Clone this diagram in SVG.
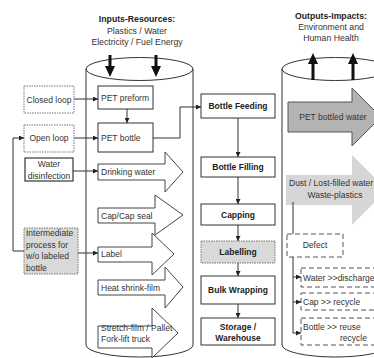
<svg xmlns="http://www.w3.org/2000/svg" width="374" height="358" viewBox="0 0 374 358">
  <defs>
    <marker id="arr" markerUnits="userSpaceOnUse" markerWidth="5" markerHeight="5" refX="5" refY="2.5" orient="auto">
      <path d="M0,0 L5,2.5 L0,5 z" fill="#222"/>
    </marker>
    <style>
      text { font-family: "Liberation Sans", Arial, sans-serif; font-size: 8.5px; fill: #333; }
      .b { font-weight: bold; fill: #222; }
      .h { font-size: 8.7px; }
      .m { text-anchor: middle; }
      .cyl { fill: none; stroke: #333; stroke-width: 1; }
      .box { fill: #fff; stroke: #333; stroke-width: 1; }
      .dot { fill: #fff; stroke: #777; stroke-width: 1; stroke-dasharray: 1.5 1; }
      .gdot { fill: #d9d9d9; stroke: #777; stroke-width: 1; stroke-dasharray: 1.5 1; }
      .dash { fill: #fff; stroke: #555; stroke-width: 1; stroke-dasharray: 5 3; }
      .big { fill: #fff; stroke: #444; stroke-width: 1; }
      .thick { fill: #111; }
      .ln { fill: none; stroke: #333; stroke-width: 1; }
    </style>
  </defs>

  <!-- headings -->
  <text class="b h m" x="137" y="22">Inputs-Resources:</text>
  <text class="h m" x="137" y="33.5">Plastics / Water</text>
  <text class="h m" x="137" y="45">Electricity / Fuel Energy</text>
  <text class="b h m" x="331" y="18.5">Outputs-Impacts:</text>
  <text class="h m" x="331" y="29.5">Environment and</text>
  <text class="h m" x="331" y="41">Human Health</text>

  <!-- input cylinder -->
  <g id="input-cylinder">
    <ellipse class="cyl" cx="139.5" cy="69" rx="53.5" ry="11.5"/>
    <line class="cyl" x1="86" y1="69" x2="86" y2="345"/>
    <line class="cyl" x1="193" y1="69" x2="193" y2="345"/>
    <path class="cyl" d="M86,345 A53.5,12 0 0 0 193,345"/>
    <polygon class="thick" points="108.5,55 111.5,55 111.5,66 115,66 110,77 105,66 108.5,66"/>
    <polygon class="thick" points="154.5,55 157.5,55 157.5,66 161,66 156,77 151,66 154.5,66"/>
  </g>

  <!-- output cylinder -->
  <g id="output-cylinder">
    <ellipse class="cyl" cx="335.5" cy="69" rx="53.5" ry="11.5"/>
    <line class="cyl" x1="282" y1="69" x2="282" y2="345"/>
    <path class="cyl" d="M282,345 A53.5,12 0 0 0 389,345"/>
    <polygon class="thick" points="311.5,80 314.5,80 314.5,64 318,64 313,53 308,64 311.5,64"/>
    <polygon class="thick" points="351.5,80 354.5,80 354.5,64 358,64 353,53 348,64 351.5,64"/>
  </g>

  <!-- source boxes -->
  <g id="closed-loop">
    <rect class="dot" x="24" y="86" width="50" height="27"/>
    <text class="m" x="49" y="102.5">Closed loop</text>
  </g>
  <g id="open-loop">
    <rect class="dot" x="24" y="125" width="50" height="27"/>
    <text class="m" x="49" y="141">Open loop</text>
  </g>
  <g id="water-disinfection">
    <rect class="box" x="25" y="158" width="48" height="23" style="stroke:#444;stroke-width:1.3"/>
    <text class="m" x="49" y="167">Water</text>
    <text class="m" x="49" y="178.5">disinfection</text>
  </g>
  <g id="intermediate">
    <rect class="gdot" x="24" y="228" width="54" height="46"/>
    <text x="26" y="236">Intermediate</text>
    <text x="26" y="247.5">process for</text>
    <text x="26" y="259">w/o labeled</text>
    <text x="26" y="270.5">bottle</text>
  </g>

  <!-- resources -->
  <g id="pet-preform">
    <rect class="box" x="98" y="86" width="55" height="23"/>
    <text x="101" y="101">PET preform</text>
  </g>
  <g id="pet-bottle">
    <rect class="box" x="98" y="123" width="55" height="29"/>
    <text x="101" y="141">PET bottle</text>
  </g>
  <g id="drinking-water">
    <polygon class="big" points="98,164 165,164 165,152 183,172 165,192 165,180 98,180"/>
    <text x="101" y="175">Drinking water</text>
  </g>
  <g id="cap-seal">
    <polygon class="big" points="98,208 155,208 155,195 183,215 155,235 155,223 98,223"/>
    <text x="101" y="218.5">Cap/Cap seal</text>
  </g>
  <g id="label">
    <polygon class="big" points="98,247 152,247 152,233 174,254 152,275 152,262 98,262"/>
    <text x="101" y="257">Label</text>
  </g>
  <g id="heat-shrink-film">
    <polygon class="big" points="98,280 165,280 165,267 183,287 165,308 165,295 98,295"/>
    <text x="101" y="290.5">Heat shrink-film</text>
  </g>
  <g id="stretch-film">
    <polygon class="big" points="98,326 152,326 152,308 178,333 152,358 152,348 98,348"/>
    <text x="101" y="331">Stretch-film / Pallet</text>
    <text x="101" y="341.5">Fork-lift truck</text>
  </g>

  <!-- process steps -->
  <g id="bottle-feeding">
    <rect class="box" x="201" y="94" width="74" height="24"/>
    <text class="b m" x="238" y="109">Bottle Feeding</text>
  </g>
  <g id="bottle-filling">
    <rect class="box" x="201" y="157" width="74" height="20"/>
    <text class="b m" x="238" y="170">Bottle Filling</text>
  </g>
  <g id="capping">
    <rect class="box" x="201" y="204" width="74" height="21"/>
    <text class="b m" x="238" y="217.5">Capping</text>
  </g>
  <g id="labelling">
    <rect class="gdot" x="201" y="241" width="74" height="22"/>
    <text class="b m" x="238" y="255">Labelling</text>
  </g>
  <g id="bulk-wrapping">
    <rect class="box" x="201" y="276" width="74" height="28"/>
    <text class="b m" x="238" y="293">Bulk Wrapping</text>
  </g>
  <g id="storage">
    <rect class="box" x="201" y="318" width="74" height="27"/>
    <text class="b m" x="238" y="330">Storage /</text>
    <text class="b m" x="238" y="341">Warehouse</text>
  </g>

  <!-- outputs -->
  <g id="pet-bottled-water">
    <polygon points="288,102 352,102 352,88 381,117 352,146 352,132 288,132" fill="#b3b3b3" stroke="#555" stroke-width="1"/>
    <text class="m" x="333" y="120">PET bottled water</text>
  </g>
  <g id="dust-waste">
    <polygon points="286,175 352,175 352,155 387,190 352,225 352,205 286,205" fill="#d6d6d6"/>
    <text x="289" y="186">Dust / Lost-filled water</text>
    <text class="m" x="335" y="197.5">Waste-plastics</text>
  </g>
  <g id="defect">
    <rect class="dash" x="287" y="234" width="56" height="23"/>
    <text class="m" x="315" y="248">Defect</text>
  </g>
  <g id="water-discharge">
    <rect class="dash" x="301" y="268" width="80" height="19"/>
    <text x="303" y="280.5">Water &gt;&gt;discharge</text>
  </g>
  <g id="cap-recycle">
    <rect class="dash" x="301" y="293" width="80" height="17"/>
    <text x="303" y="304.5">Cap &gt;&gt; recycle</text>
  </g>
  <g id="bottle-reuse">
    <rect class="dash" x="301" y="318" width="80" height="27"/>
    <text x="303" y="329.5">Bottle &gt;&gt; reuse</text>
    <text x="340" y="341">recycle</text>
  </g>

  <!-- connectors -->
  <g id="connectors">
    <line class="ln" x1="74" y1="99" x2="98" y2="99" marker-end="url(#arr)"/>
    <line class="ln" x1="127" y1="109" x2="127" y2="123" marker-end="url(#arr)"/>
    <line class="ln" x1="74" y1="138" x2="98" y2="138" marker-end="url(#arr)"/>
    <polyline class="ln" points="153,138 180,138 180,107 201,107" marker-end="url(#arr)"/>
    <line class="ln" x1="73" y1="171" x2="98" y2="171" marker-end="url(#arr)"/>
    <line class="ln" x1="78" y1="253" x2="98" y2="253" marker-end="url(#arr)"/>
    <polyline class="ln" points="24,251 13,251 13,138 24,138" marker-end="url(#arr)"/>
    <line class="ln" x1="238" y1="118" x2="238" y2="157" marker-end="url(#arr)"/>
    <line class="ln" x1="238" y1="177" x2="238" y2="204" marker-end="url(#arr)"/>
    <line class="ln" x1="238" y1="225" x2="238" y2="241" marker-end="url(#arr)"/>
    <line class="ln" x1="238" y1="263" x2="238" y2="276" marker-end="url(#arr)"/>
    <line class="ln" x1="238" y1="304" x2="238" y2="318" marker-end="url(#arr)"/>
    <line class="ln" x1="293" y1="202" x2="293" y2="234"/>
    <line class="ln" x1="293" y1="257" x2="293" y2="333"/>
    <line class="ln" x1="293" y1="277" x2="301" y2="277" marker-end="url(#arr)"/>
    <line class="ln" x1="293" y1="302" x2="301" y2="302" marker-end="url(#arr)"/>
    <line class="ln" x1="293" y1="333" x2="301" y2="333" marker-end="url(#arr)"/>
  </g>
</svg>
